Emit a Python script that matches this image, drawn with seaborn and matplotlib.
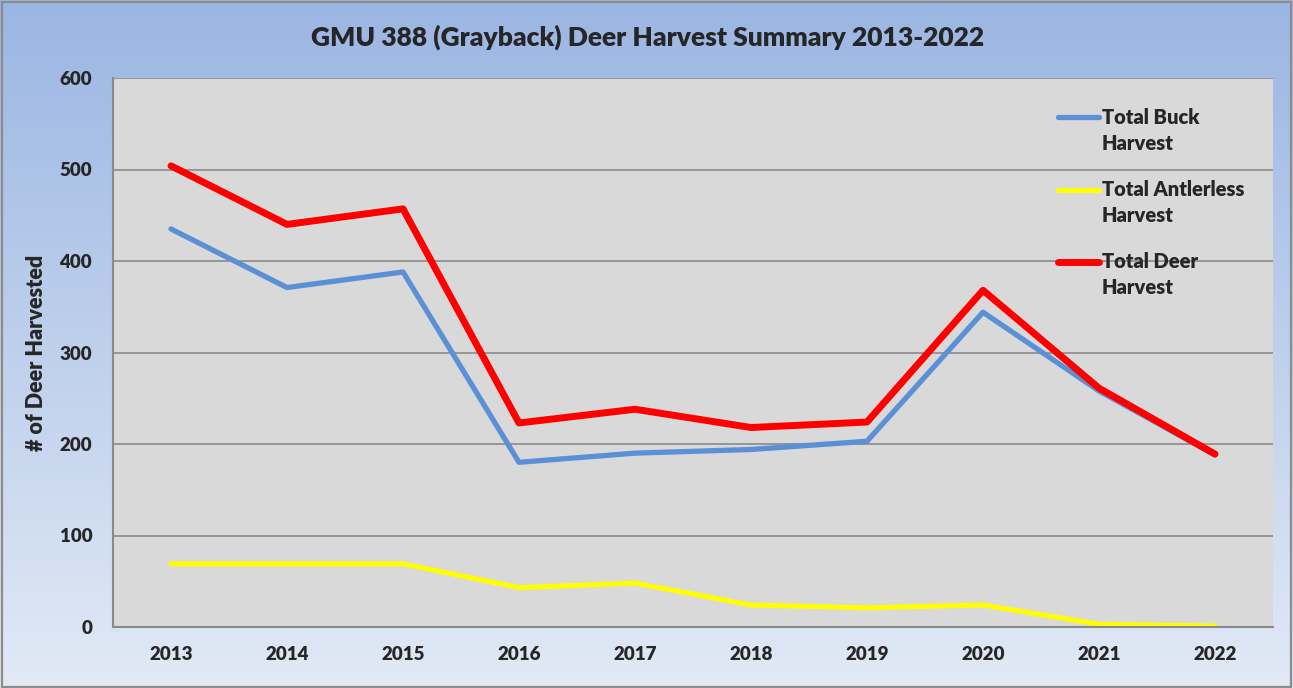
import numpy as np
import pandas as pd
import matplotlib
matplotlib.use("Agg")
import matplotlib.pyplot as plt
import seaborn as sns

years = [2013, 2014, 2015, 2016, 2017, 2018, 2019, 2020, 2021, 2022]
buck = [435, 371, 388, 180, 190, 194, 203, 344, 258, 188]
antlerless = [69, 69, 69, 43, 48, 24, 21, 24, 3, 1]
deer = [504, 440, 457, 223, 238, 218, 224, 368, 261, 189]

series_names = ["Total Buck Harvest", "Total Antlerless Harvest", "Total Deer Harvest"]
legend_lines = [("Total Buck", "Harvest"), ("Total Antlerless", "Harvest"), ("Total Deer", "Harvest")]
colors = ["#5B8FD6", "#FFFF00", "#FF0000"]
widths = [3.8, 3.6, 5.0]
WEIGHT = "heavy"

df = pd.DataFrame({
    "pos": list(range(len(years))) * 3,
    "value": buck + antlerless + deer,
    "series": np.repeat(series_names, len(years)),
})

sns.set_style("white")
plt.rcParams["font.family"] = ["Lato", "DejaVu Sans"]

fig = plt.figure(figsize=(12.93, 6.88), dpi=100)
W, H = 1293, 688

# gradient background + outer frame
bg = fig.add_axes([0, 0, 1, 1], zorder=0)
grad = np.linspace(0, 1, 256).reshape(-1, 1)
cmap = matplotlib.colors.LinearSegmentedColormap.from_list("bg", ["#9BB6E3", "#E1E9F5"])
bg.imshow(grad, aspect="auto", cmap=cmap, extent=[0, 1, 0, 1], origin="upper")
bg.set_xlim(0, 1); bg.set_ylim(0, 1)
bg.add_patch(plt.Rectangle((1.5 / W, 1.5 / H), 1 - 3.5 / W, 1 - 3.5 / H, fill=False,
                           edgecolor="#8C8C8C", linewidth=1.6))
bg.axis("off")

ax = fig.add_axes([113 / W, 1 - 627 / H, (1273 - 113) / W, (627 - 78) / H], zorder=1)
ax.set_facecolor("#D9D9D9")

for name, c, lw in zip(series_names, colors, widths):
    sns.lineplot(data=df[df["series"] == name], x="pos", y="value", color=c,
                 linewidth=lw, ax=ax, solid_capstyle="round", solid_joinstyle="round")

ax.set_xlim(-0.5, len(years) - 0.5)
ax.set_ylim(0, 600)
ax.set_yticks(range(0, 601, 100))
ax.set_xticks(range(len(years)))
ax.set_xticklabels([str(y) for y in years])
ax.tick_params(axis="both", length=0, labelsize=13.5)
ax.tick_params(axis="y", pad=15)
ax.tick_params(axis="x", pad=14)
for lbl in ax.get_xticklabels() + ax.get_yticklabels():
    lbl.set_fontweight(WEIGHT)
ax.grid(axis="y", color="#8A8A8A", linewidth=1.2)
ax.set_axisbelow(True)
for s in ["top", "right"]:
    ax.spines[s].set_visible(False)
for s in ["left", "bottom"]:
    ax.spines[s].set_color("#8A8A8A")
    ax.spines[s].set_linewidth(1.5)
ax.set_xlabel("")
ax.set_ylabel("# of Deer Harvested", fontsize=15.5, fontweight=WEIGHT)
ax.yaxis.set_label_coords((47 - 113) / 1160, 0.5)

# legend: handle aligned with the first line of each two-line label
lx0, lx1, tx = (1058 - 113) / 1160, (1099 - 113) / 1160, (1102 - 113) / 1160
line_gap = 26 / 549
for i, (c, lw, (l1, l2)) in enumerate(zip(colors, widths, legend_lines)):
    ly = (627 - (117 + i * 72.5)) / 549
    ax.plot([lx0, lx1], [ly, ly], transform=ax.transAxes, color=c, linewidth=lw,
            solid_capstyle="round", clip_on=False)
    ax.text(tx, ly, l1, transform=ax.transAxes, ha="left", va="center",
            fontsize=14.5, fontweight=WEIGHT)
    ax.text(tx, ly - line_gap, l2, transform=ax.transAxes, ha="left", va="center",
            fontsize=14.5, fontweight=WEIGHT)

fig.text(648 / W, 1 - 37 / H, "GMU 388 (Grayback) Deer Harvest Summary 2013-2022",
         ha="center", va="center", fontsize=19, fontweight=WEIGHT)

fig.savefig("out.png", dpi=100)
